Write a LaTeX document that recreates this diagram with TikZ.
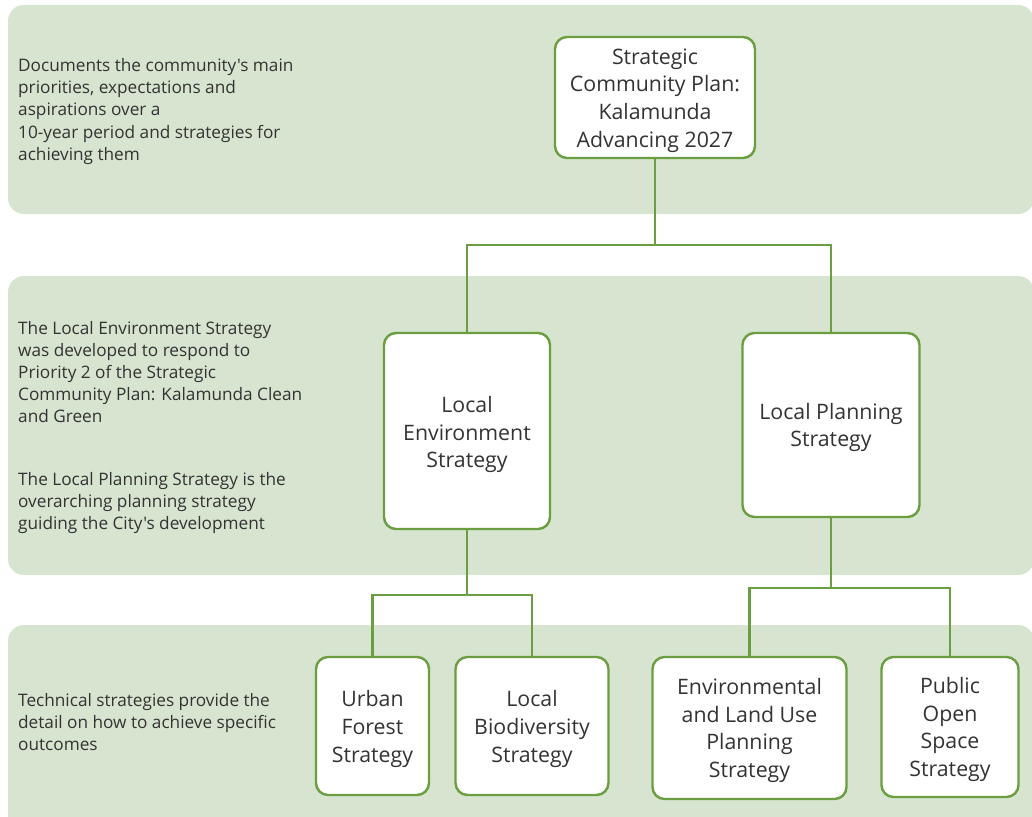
\documentclass[tikz,border=0pt]{standalone}
\usepackage{fontspec}
\setmainfont{Open Sans}[Ligatures=TeXOff]
\definecolor{bandgreen}{HTML}{D7E4D0}
\definecolor{gstroke}{HTML}{6B9E40}
\definecolor{txt}{HTML}{333333}
\begin{document}
\begin{tikzpicture}[x=1pt,y=-1pt,
  band/.style={fill=bandgreen, rounded corners=16pt},
  sbox/.style={draw=gstroke, line width=2.4pt, fill=white, rounded corners=12pt, inner sep=0pt},
  boxtext/.style={align=center, text=txt, font=\fontsize{21.3}{27.6}\selectfont, inner sep=0pt},
  side/.style={anchor=north west, align=left, text=txt, font=\fontsize{17.2}{22.1}\selectfont, inner sep=0pt},
  link/.style={draw=gstroke, line width=2.4pt}]
\useasboundingbox (0,0) rectangle (1032,816);
\begin{scope}
\clip (0,0) rectangle (1032,816);
\fill[band] (8,5) rectangle (1034,214);
\fill[band] (8,276) rectangle (1034,575);
\fill[band] (8,625) rectangle (1034,840);
\end{scope}

\node[side] (t1) at (18,58.5) {Documents the community's main\\priorities, expectations and\\aspirations over a\\10-year period and strategies for\\achieving them};
\node[side] (t2) at (18,321) {The Local Environment Strategy\\was developed to respond to\\Priority 2 of the Strategic\\Community Plan: Kalamunda Clean\\and Green};
\node[side] (t3) at (18,472) {The Local Planning Strategy is the\\overarching planning strategy\\guiding the City's development};
\node[side] (t4) at (18,693) {Technical strategies provide the\\detail on how to achieve specific\\outcomes};

\node[sbox, minimum width=200pt, minimum height=121pt] (scp) at (655,97.5) {};
\node[sbox, minimum width=166pt, minimum height=196pt] (les) at (467,431) {};
\node[sbox, minimum width=177pt, minimum height=184pt] (lps) at (831,425) {};
\node[sbox, minimum width=113pt, minimum height=138pt] (ufs) at (372.5,726) {};
\node[sbox, minimum width=153pt, minimum height=138pt] (lbs) at (532,726) {};
\node[sbox, minimum width=194pt, minimum height=142pt] (elu) at (749.5,728) {};
\node[sbox, minimum width=137pt, minimum height=140pt] (pos) at (950,727) {};

\node[boxtext] (scpt) at ([yshift=-3pt]scp.center) {Strategic\\Community Plan:\\Kalamunda\\Advancing 2027};
\node[boxtext] (lest) at ([yshift=-3.5pt]les.center) {Local\\Environment\\Strategy};
\node[boxtext] (lpst) at ([yshift=-2.5pt]lps.center) {Local Planning\\Strategy};
\node[boxtext] (ufst) at ([yshift=-3pt]ufs.center) {Urban\\Forest\\Strategy};
\node[boxtext] (lbst) at ([yshift=-3pt]lbs.center) {Local\\Biodiversity\\Strategy};
\node[boxtext] (elut) at ([yshift=-2.5pt]elu.center) {Environmental\\and Land Use\\Planning\\Strategy};
\node[boxtext] (post) at ([yshift=-2.5pt]pos.center) {Public\\Open\\Space\\Strategy};

\coordinate (j1) at (655,245);
\coordinate (j2) at (467,595);
\coordinate (j3) at (831,588);
\draw[link] (scp.south) -- (j1);
\draw[link] (les.north) |- (j1) -| (lps.north);
\draw[link] (les.south) -- (j2);
\draw[link] (ufs.north) |- (j2) -| (lbs.north);
\draw[link] (lps.south) -- (j3);
\draw[link] (elu.north) |- (j3) -| (pos.north);
\end{tikzpicture}
\end{document}
